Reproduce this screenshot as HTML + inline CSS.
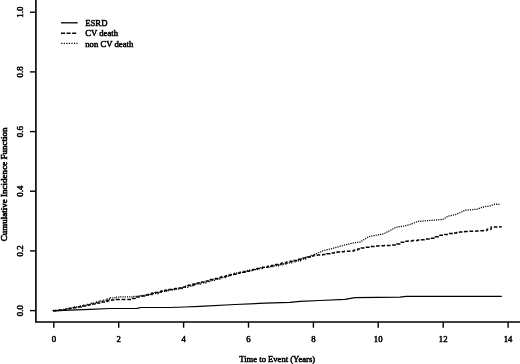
<!DOCTYPE html><html><head><meta charset="utf-8"><title>Cumulative Incidence</title><style>html,body{margin:0;padding:0;background:#fff}svg{display:block}</style></head><body><svg width="520" height="364" viewBox="0 0 520 364">
<rect width="520" height="364" fill="#fff"/>
<g fill="none" stroke="#000" stroke-width="1">
<path d="M35.9,0 V322 H520" stroke-width="1.6"/>
<path d="M30,310.6 H36" stroke-width="1.4"/>
<path d="M30,250.9 H36" stroke-width="1.4"/>
<path d="M30,191.2 H36" stroke-width="1.4"/>
<path d="M30,131.6 H36" stroke-width="1.4"/>
<path d="M30,71.9 H36" stroke-width="1.4"/>
<path d="M30,12.2 H36" stroke-width="1.4"/>
<path d="M53.8,322 V327.7" stroke-width="1.4"/>
<path d="M118.7,322 V327.7" stroke-width="1.4"/>
<path d="M183.6,322 V327.7" stroke-width="1.4"/>
<path d="M248.5,322 V327.7" stroke-width="1.4"/>
<path d="M313.4,322 V327.7" stroke-width="1.4"/>
<path d="M378.2,322 V327.7" stroke-width="1.4"/>
<path d="M443.2,322 V327.7" stroke-width="1.4"/>
<path d="M508.1,322 V327.7" stroke-width="1.4"/>
<path d="M53.1,310.8 L70.0,310.1 L90.0,309.3 L110.0,308.5 L137.0,308.3 L141.0,307.5 L170.0,307.5 L185.0,307.0 L200.0,306.3 L235.0,304.5 L265.0,303.2 L290.0,302.4 L300.0,301.4 L320.0,300.5 L345.0,299.3 L355.0,297.6 L400.0,297.1 L406.0,296.4 L501.8,296.4" stroke-width="1.2" stroke-linejoin="round"/>
<path d="M53.1,310.8V310.7H56.0V310.3H61.0V309.7H65.8V309.0H69.1V308.4H73.1V307.7H76.9V307.0H81.4V306.0H86.3V305.3H89.0V304.7H91.6V303.9H96.6V302.9H100.4V302.0H105.2V301.2H107.7V300.6H111.6V299.9H116.2V299.6H119.4V299.5H124.7V299.5H130.0V299.4H132.5V298.6H135.1V297.1H139.2V296.0H144.6V294.9H148.2V294.2H151.4V293.3H155.1V292.6H157.7V291.9H160.9V291.1H164.7V290.2H168.7V289.4H171.9V288.9H175.1V288.4H178.2V287.9H182.1V287.0H185.5V286.2H188.0V285.3H193.0V284.1H197.2V283.0H201.6V282.0H204.7V280.9H210.2V279.4H215.3V278.4H218.1V277.5H221.6V276.6H226.3V275.4H230.9V274.2H236.2V273.2H240.0V272.2H245.0V271.2H249.5V270.3H252.9V269.4H257.2V268.4H262.3V267.3H267.4V266.3H271.4V265.4H275.6V264.6H278.2V264.0H281.5V263.1H286.4V262.1H290.1V261.3H293.1V260.5H297.3V259.2H301.9V258.0H306.4V257.0H310.0V256.0H313.8V255.2H317.9V254.9H322.7V254.5H326.8V253.7H330.4V252.9H334.4V252.4H337.0V252.1H339.6V251.7H344.2V251.2H349.7V250.9H354.0V250.0H357.7V249.1H360.7V247.9H364.7V247.3H370.1V246.6H374.9V246.1H379.0V245.8H384.1V245.6H387.3V245.4H391.4V245.1H396.7V243.9H401.0V242.2H404.8V241.2H408.1V240.9H412.3V240.6H417.7V240.1H420.2V239.7H425.0V239.0H430.0V238.2H435.1V236.7H439.9V235.2H444.8V234.4H448.9V233.6H453.0V232.9H456.8V232.5H459.5V231.9H464.6V231.5H468.8V231.3H471.9V231.2H475.9V231.0H479.9V230.8H483.4V230.6H487.0V229.2H491.1V227.1H495.5V226.9H499.8V226.8H501.7V226.8" stroke-dasharray="3.8,1.9" stroke-width="1.5" stroke-linejoin="round"/>
<path d="M53.1,310.8V310.5H58.5V309.9H63.8V309.2H66.5V308.6H69.2V307.9H74.2V306.9H79.0V305.9H83.5V305.1H86.9V304.3H91.2V303.2H95.5V302.0H99.8V301.0H102.7V300.1H106.5V299.0H110.2V297.9H114.9V297.1H120.4V296.9H125.7V296.9H129.8V296.8H133.7V296.5H137.0V296.2H139.6V295.9H142.2V295.5H146.1V295.1H149.5V294.6H153.2V293.5H158.3V292.4H162.4V291.4H166.6V290.5H169.8V289.9H172.4V289.5H175.9V289.1H178.8V288.5H182.8V287.3H188.3V286.1H192.8V285.2H195.9V284.2H201.0V282.9H205.9V281.6H210.6V280.3H215.9V279.0H220.6V277.5H225.5V276.1H229.1V274.7H234.5V273.2H239.9V272.3H242.9V271.5H247.6V270.5H252.3V269.6H256.2V268.7H260.3V267.9H264.2V267.3H269.5V266.7H273.5V265.8H278.5V264.9H282.1V264.0H287.2V262.9H292.4V261.9H296.3V260.8H300.5V259.1H305.8V257.2H310.4V255.4H314.4V254.5H315.0V254.4 L323.0,250.8 L334.6,247.9 L346.1,244.6 L353.8,242.8 L360.0,242.1 L368.8,236.6 L383.8,233.8 L396.2,227.2 L405.0,225.9 L410.0,224.4 L418.2,221.4 L443.0,219.4 L447.8,216.3 L456.7,214.2 L465.0,210.3 L477.0,209.2 L483.8,206.8 L490.7,205.8 L494.8,204.1 L499.6,204.4" stroke-dasharray="1.15,1.1" stroke-width="1.3" stroke-linejoin="round"/>
<path d="M61,22.8 H77.7" stroke-width="1.3"/>
<path d="M61,33.2 H77.5" stroke-dasharray="4,1.6" stroke-width="1.4"/>
<path d="M61.2,43.4 H77.5" stroke-dasharray="1.2,1.35" stroke-width="1.4"/>
</g>
<g font-family="'Liberation Serif', serif" font-size="8.7" stroke="#000" stroke-width="0.5" stroke-linejoin="round" fill="#000">
<text transform="translate(23.2,310.6) rotate(-90)" text-anchor="middle" font-size="8.95">0.0</text>
<text transform="translate(23.2,250.9) rotate(-90)" text-anchor="middle" font-size="8.95">0.2</text>
<text transform="translate(23.2,191.2) rotate(-90)" text-anchor="middle" font-size="8.95">0.4</text>
<text transform="translate(23.2,131.6) rotate(-90)" text-anchor="middle" font-size="8.95">0.6</text>
<text transform="translate(23.2,71.9) rotate(-90)" text-anchor="middle" font-size="8.95">0.8</text>
<text transform="translate(23.2,12.2) rotate(-90)" text-anchor="middle" font-size="8.95">1.0</text>
<text transform="translate(53.8,341.5) scale(1,1.05)" text-anchor="middle">0</text>
<text transform="translate(118.7,341.5) scale(1,1.05)" text-anchor="middle">2</text>
<text transform="translate(183.6,341.5) scale(1,1.05)" text-anchor="middle">4</text>
<text transform="translate(248.5,341.5) scale(1,1.05)" text-anchor="middle">6</text>
<text transform="translate(313.4,341.5) scale(1,1.05)" text-anchor="middle">8</text>
<text transform="translate(378.2,341.5) scale(1,1.05)" text-anchor="middle">10</text>
<text transform="translate(443.2,341.5) scale(1,1.05)" text-anchor="middle">12</text>
<text transform="translate(508.1,341.5) scale(1,1.05)" text-anchor="middle">14</text>
<text transform="translate(277.2,362.3) scale(1,1.05)" text-anchor="middle" font-size="8.6">Time to Event (Years)</text>
<text transform="translate(6.5,184.4) rotate(-90)" text-anchor="middle" font-size="9.02" stroke-width="0.55">Cumulative Incidence Function</text>
<text transform="translate(85.2,26.1) scale(1,1.05)">ESRD</text>
<text transform="translate(85.2,36.4) scale(1,1.05)">CV death</text>
<text transform="translate(85.2,46.6) scale(1,1.05)">non CV death</text>
</g></svg></body></html>
